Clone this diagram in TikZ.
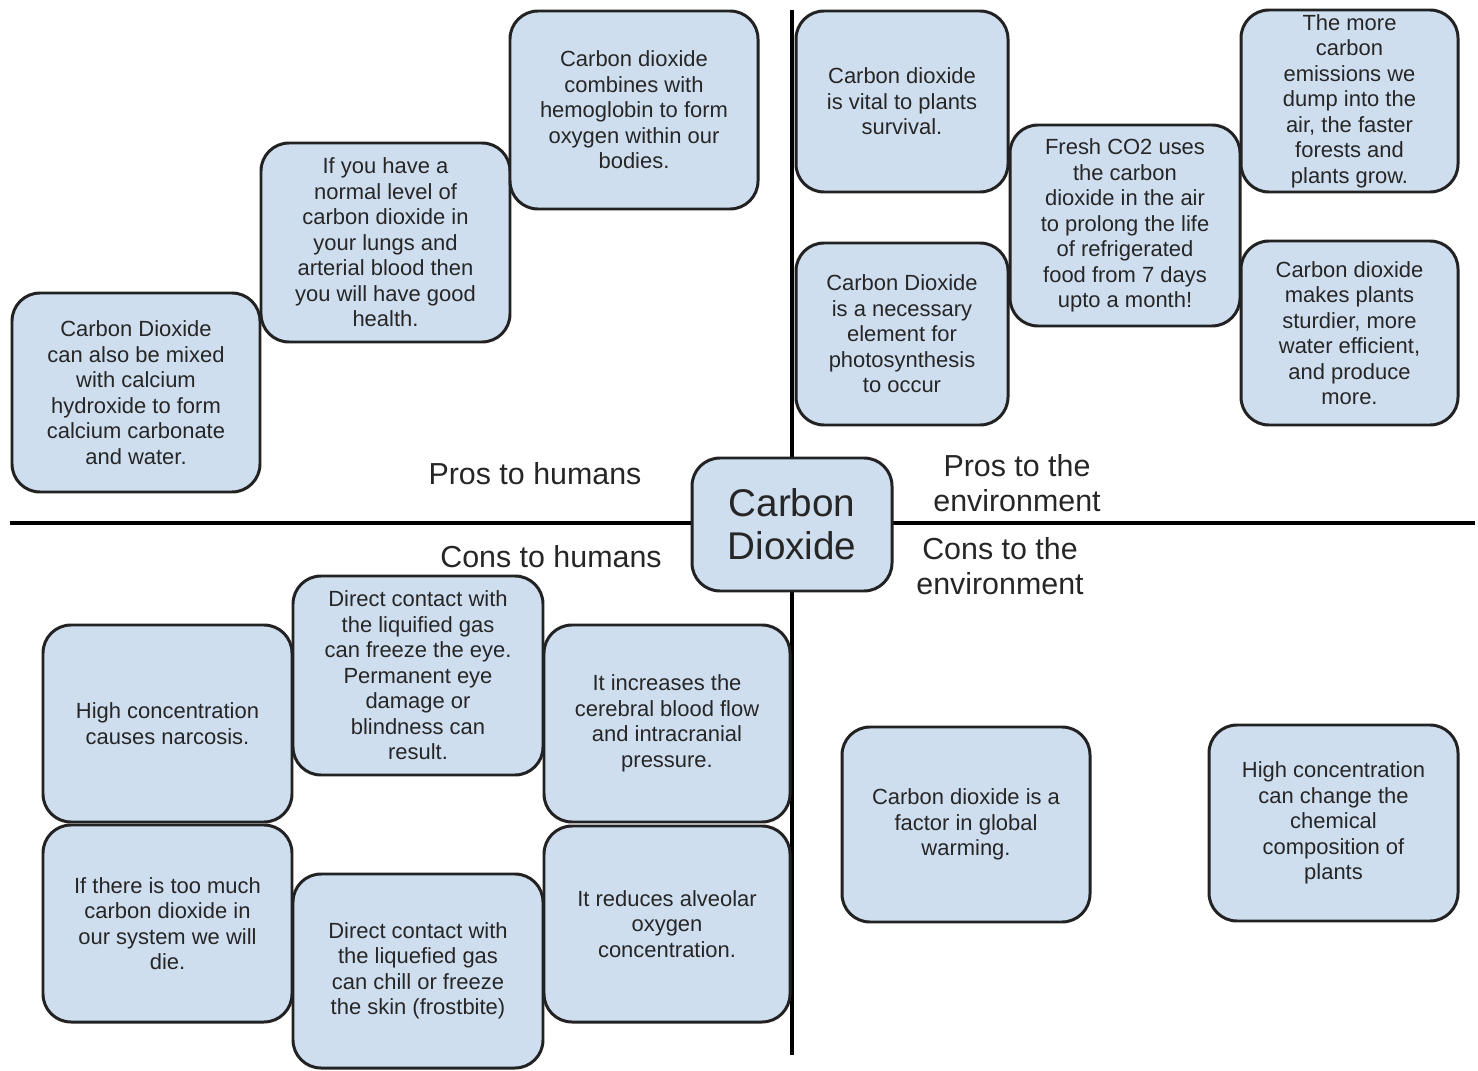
\documentclass[tikz,border=0pt]{standalone}
\usepackage{fontspec}
\setmainfont{Liberation Sans}
\usetikzlibrary{positioning}
\definecolor{cdFill}{HTML}{CFDEEF}
\definecolor{cdEdge}{HTML}{222222}
\definecolor{cdText}{HTML}{262626}
\tikzset{
  % one drawing unit is one pixel of the layout grid
  axisline/.style = {line width=2.8pt, black},
  note/.style     = {draw=cdEdge, fill=cdFill, line width=1.7pt, rounded corners=0.56cm,
                     align=center, inner sep=0pt, text=cdText,
                     font=\fontsize{12.5}{14.5}\selectfont},
  sz/.style 2 args = {minimum width=#1*0.02cm, minimum height=#2*0.02cm},
  hub/.style      = {note, font=\fontsize{22}{24.5}\selectfont},
  lbl/.style      = {align=center, text=cdText, inner sep=0pt,
                     font=\fontsize{17.3}{20}\selectfont},
}

\begin{document}
\begin{tikzpicture}[x=0.02cm, y=-0.02cm]
  \useasboundingbox (0,0) rectangle (1478,1071);
  % --- quadrant axes -------------------------------------------------------
  \coordinate (top)    at (792,10);
  \coordinate (bottom) at (792,1055);
  \coordinate (west)   at (10,523);
  \coordinate (east)   at (1475,523);
  \draw[axisline] (top) -- (bottom);
  \draw[axisline] (west) -- (east);
  % --- centre --------------------------------------------------------------
  \node[hub, sz={200}{133}] (co2) at (792,524.5) {Carbon\\Dioxide};
  % --- quadrant titles -----------------------------------------------------
  \node[lbl] (proshum) at (535,474) {Pros to humans};
  \node[lbl] (prosenv) at (1017,483) {Pros to the\\environment};
  \node[lbl] (conshum) at (551,557) {Cons to humans};
  \node[lbl] (consenv) at (1000,566) {Cons to the\\environment};
  % --- pros to humans ------------------------------------------------------
  \node[note, sz={248}{199}] (limewater) at (136,392.5)
    {Carbon Dioxide\\can also be mixed\\with calcium\\hydroxide to form\\calcium carbonate\\and water.};
  \node[note, sz={249}{199}] (health) at (385.5,242.5)
    {If you have a\\normal level of\\carbon dioxide in\\your lungs and\\arterial blood then\\you will have good\\health.};
  \node[note, sz={248}{198}] (hemo) at (634,110)
    {Carbon dioxide\\combines with\\hemoglobin to form\\oxygen within our\\bodies.};
  % --- pros to the environment ---------------------------------------------
  \node[note, sz={212}{181}] (vital) at (902,101.5)
    {Carbon dioxide\\is vital to plants\\survival.};
  \node[note, sz={212}{182}] (photo) at (902,334)
    {Carbon Dioxide\\is a necessary\\element for\\photosynthesis\\to occur};
  \node[note, sz={230}{201}] (fresh) at (1125,225.5)
    {Fresh CO2 uses\\the carbon\\dioxide in the air\\to prolong the life\\of refrigerated\\food from 7 days\\upto a month!};
  \node[note, sz={217}{182}] (faster) at (1349.5,101)
    {The more\\carbon\\emissions we\\dump into the\\air, the faster\\forests and\\plants grow.};
  \node[note, sz={217}{184}] (sturdy) at (1349.5,333)
    {Carbon dioxide\\makes plants\\sturdier, more\\water efficient,\\and produce\\more.};
  % --- cons to humans ------------------------------------------------------
  \node[note, sz={249}{197}] (narcosis) at (167.5,723.5)
    {High concentration\\causes narcosis.};
  \node[note, sz={250}{199}] (eye) at (418,675.5)
    {Direct contact with\\the liquified gas\\can freeze the eye.\\Permanent eye\\damage or\\blindness can\\result.};
  \node[note, sz={246}{197}] (cerebral) at (667,723.5)
    {It increases the\\cerebral blood flow\\and intracranial\\pressure.};
  \node[note, sz={249}{197}] (die) at (167.5,923.5)
    {If there is too much\\carbon dioxide in\\our system we will\\die.};
  \node[note, sz={250}{194}] (skin) at (418,971)
    {Direct contact with\\the liquefied gas\\can chill or freeze\\the skin (frostbite)};
  \node[note, sz={246}{196}] (alveolar) at (667,924)
    {It reduces alveolar\\oxygen\\concentration.};
  % --- cons to the environment ---------------------------------------------
  \node[note, sz={248}{195}] (warming) at (966,824.5)
    {Carbon dioxide is a\\factor in global\\warming.};
  \node[note, sz={249}{196}] (chem) at (1333.5,823)
    {High concentration\\can change the\\chemical\\composition of\\plants};
\end{tikzpicture}
\end{document}
